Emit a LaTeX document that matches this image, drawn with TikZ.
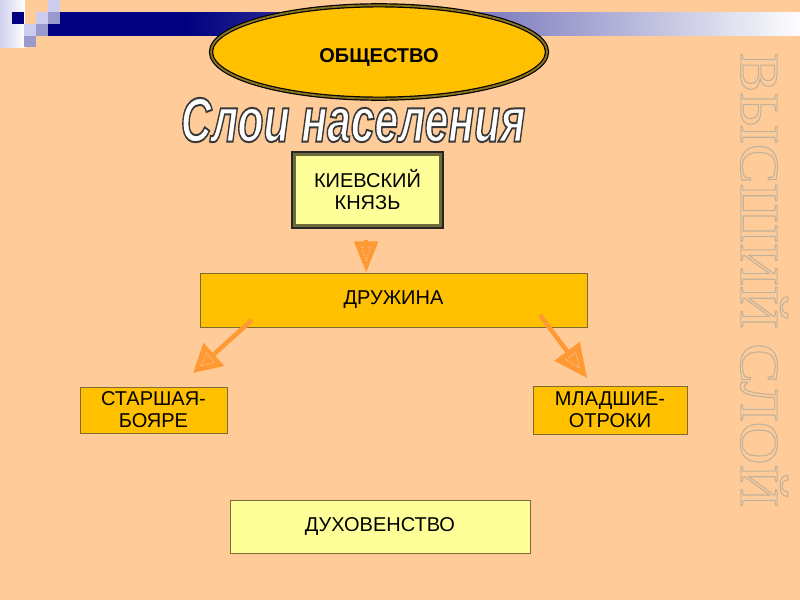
\documentclass[tikz,border=0pt]{standalone}
\usepackage{fontspec}
\setmainfont{Liberation Sans}
\newfontfamily\vserif{Liberation Serif}
\usetikzlibrary{shapes.geometric,arrows.meta,calc}
\definecolor{bg}{HTML}{FFCC99}
\definecolor{gold}{HTML}{FFC000}
\definecolor{paleY}{HTML}{FFFF99}
\definecolor{navy}{HTML}{000080}
\definecolor{lav}{HTML}{CCCCEE}
\definecolor{lavm}{HTML}{9999CC}
\definecolor{arrc}{HTML}{FF9933}
\definecolor{boxline}{HTML}{7F6A30}
\definecolor{dbl}{HTML}{8A7420}
\definecolor{olivebd}{HTML}{6E6A3A}
\pgfdeclarehorizontalshading{barshade}{100bp}{color(0bp)=(navy); color(34bp)=(navy); color(75bp)=(white!96!lav); color(100bp)=(white!96!lav)}
\newcommand{\outlineon}{\special{pdf:literal direct 2 Tr 1.5 w 0.22 0.22 0.22 RG}}
\newcommand{\strokeon}{\special{pdf:literal direct 1 Tr 0.8 w 0.76 0.70 0.60 RG}}
\newcommand{\outlineoff}{\special{pdf:literal direct 0 Tr}}
\newcommand{\innertri}[4]{%
  \path ($(#2)!#3*0.82!(#1)$) coordinate (itb);
  \draw[itri] ($(#2)!#3*0.38!(#1)$) -- ($(itb)!#4*0.2!90:(#1)$) -- ($(itb)!#4*0.2!-90:(#1)$) -- cycle;}
\begin{document}
\begin{tikzpicture}[x=0.75pt,y=-0.75pt,
  plainbox/.style={draw=boxline,line width=0.6pt,inner sep=0pt,align=center,
    font=\fontsize{15}{16.5}\selectfont},
  goldbox/.style={plainbox,fill=gold},
  palebox/.style={plainbox,fill=paleY},
  arr/.style={draw=arrc,line width=3.4pt},
  itri/.style={draw=white!55!arrc,line width=0.5pt,dash pattern=on 1pt off 1pt}]
\useasboundingbox (0,0) rectangle (800,600);
\fill[bg] (0,0) rectangle (800,600);
% top decoration
\shade[left color=lav!90,right color=white] (0,0) rectangle (25,47);
\shade[shading=barshade] (48,12) rectangle (800,35);
\fill[navy] (12,12) rectangle (24,24);
\fill[lav] (36,12) rectangle (48,24);
\fill[lav] (48,0) rectangle (60,12);
\fill[lavm] (48,12) rectangle (60,24);
\fill[lav] (24,24) rectangle (36,36);
\fill[lavm] (36,24) rectangle (48,36);
\fill[lavm] (24,36) rectangle (36,47);
% ellipse
\node[ellipse,fill=gold,draw=black,line width=0.9pt,double=dbl,double distance=1.4pt,
  minimum width=252pt,minimum height=70pt,inner sep=0pt] (ob) at (379,52) {};
\node[inner sep=0pt,font=\bfseries\fontsize{15}{18}\selectfont] (obt) at ([yshift=-4pt]ob.center) {ОБЩЕСТВО};
% title
\node[inner sep=0pt,font=\bfseries\itshape\fontsize{47}{50}\selectfont] (tt) at (353,120)
  {\scalebox{0.68}[1]{\color{white}\outlineon Слои населения\outlineoff}};
% vertical text
\node[inner sep=0pt,rotate=-90,font=\vserif\fontsize{41.5}{45}\selectfont] (vs) at (764,280)
  {\scalebox{1.07}[1]{\strokeon ВЫСШИЙ СЛОЙ\outlineoff}};
% boxes
\node[palebox,draw=olivebd,line width=2.3pt,
  minimum width=109.5pt,minimum height=53.25pt] (kn) at (367.5,190) {КИЕВСКИЙ\\КНЯЗЬ};
\draw[black!85,line width=1.2pt] ([shift={(-0.8,0.8)}]kn.south west) rectangle ([shift={(0.8,-0.8)}]kn.north east);
\node[goldbox,minimum width=290.25pt,minimum height=40.5pt] (dr) at (393.5,300) {ДРУЖИНА};
\node[goldbox,minimum width=110.25pt,minimum height=34.5pt] (st) at (153.5,410) {СТАРШАЯ-\\БОЯРЕ};
\node[goldbox,minimum width=115.5pt,minimum height=36pt] (ml) at (610,410) {МЛАДШИЕ-\\ОТРОКИ};
\node[palebox,minimum width=225pt,minimum height=39.75pt] (du) at (380,526.5) {ДУХОВЕНСТВО};
% arrows
\coordinate (da1) at ([xshift=-1pt,yshift=-9.5pt]kn.south);
\coordinate (da2) at (da1 |- dr.north);
\coordinate (la1) at (252,320);
\coordinate (la2) at (193,373);
\coordinate (ra1) at (540,315);
\coordinate (ra2) at (587,378);
\draw[arr,-{Triangle[length=23.5pt,width=17.5pt]}] (da1) -- (da2);
\draw[arr,-{Triangle[length=21pt,width=22.5pt]}] (la1) -- (la2);
\draw[arr,-{Triangle[length=25pt,width=23pt]}] (ra1) -- (ra2);
\innertri{da1}{da2}{23.5pt}{17.5pt}
\innertri{la1}{la2}{21pt}{22.5pt}
\innertri{ra1}{ra2}{25pt}{23pt}
\end{tikzpicture}
\end{document}
